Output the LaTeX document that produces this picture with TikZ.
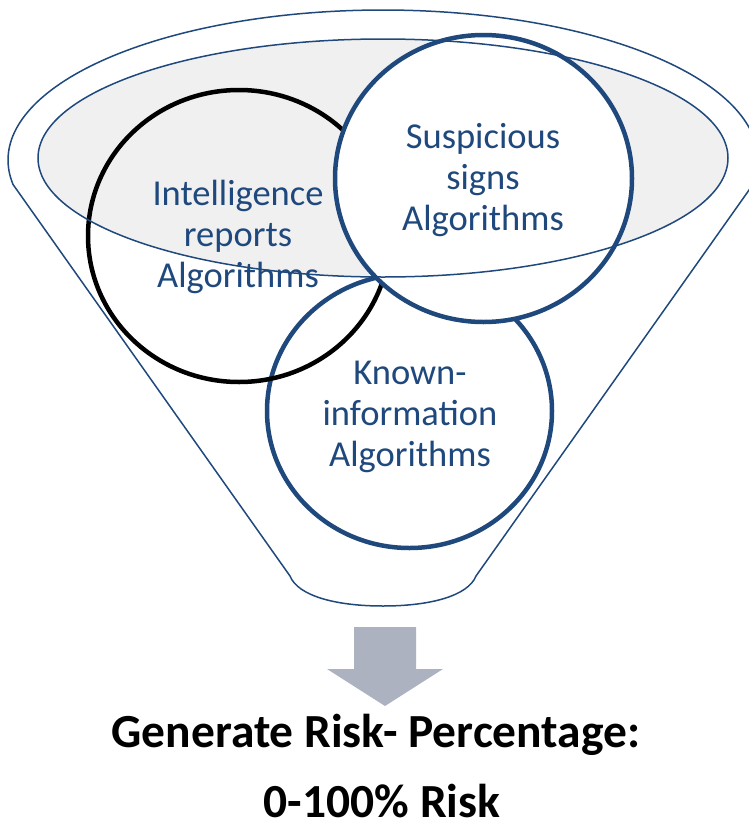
\documentclass[tikz,border=0pt]{standalone}
\usepackage{fontspec}
\setmainfont{Carlito}
\usetikzlibrary{shapes.geometric}
\definecolor{navy}{RGB}{31,73,125}
\definecolor{rimgray}{RGB}{240,240,240}
\definecolor{arrowgray}{RGB}{173,178,192}
\tikzset{
  circ/.style={ellipse, draw=navy, line width=4.5pt, inner sep=0pt},
  lbl/.style={text=navy, align=center, inner sep=0pt, font=\fontsize{36.5}{41}\selectfont},
  funnelline/.style={draw=navy, line width=1.5pt},
  result/.style={text=black, anchor=base, inner sep=0pt, text depth=0pt, font=\bfseries\fontsize{47.5}{73}\selectfont}
}
\begin{document}
\begin{tikzpicture}[x=1pt,y=-1pt]
\useasboundingbox (0,0) rectangle (749,825);
% gray rim fill
\fill[rimgray] (383,158) ellipse [x radius=345pt, y radius=119pt];
% circles
\node[circ, fill=white, minimum width=285pt, minimum height=274pt] (known) at (409.5,411) {};
\node[circ, draw=black, minimum width=302pt, minimum height=292pt] (intel) at (239,236) {};
\node[circ, fill=white, minimum width=297pt, minimum height=287pt] (susp) at (483.5,178.5) {};
% labels
\node[lbl] (intelT) at (238,237) {Intelligence\\reports\\Algorithms};
\node[lbl] (suspT) at (483,180) {Suspicious\\signs\\Algorithms};
\node[lbl] (knownT) at (410,417) {Known-\\information\\Algorithms};
% rim outline
\draw[funnelline] (383,158) ellipse [x radius=345pt, y radius=119pt];
% funnel outline
\draw[funnelline, line join=round] plot[domain=170.6:369.4, samples=150] ({383+375*cos(\x)}, {160+150*sin(\x)})
  -- (476,576) .. controls (468,596) and (430,606) .. (383,606)
  .. controls (336,606) and (298,596) .. (290,576) -- cycle;
% block arrow
\fill[arrowgray] (354,627) -- (416,627) -- (416,669) -- (443,669) -- (385,706) -- (327,669) -- (354,669) -- cycle;
% result text
\node[result] (gen) at (376,747) {Generate Risk- Percentage:};
\node[result] (risk) at (382,817) {0-100\% Risk};
\end{tikzpicture}
\end{document}
